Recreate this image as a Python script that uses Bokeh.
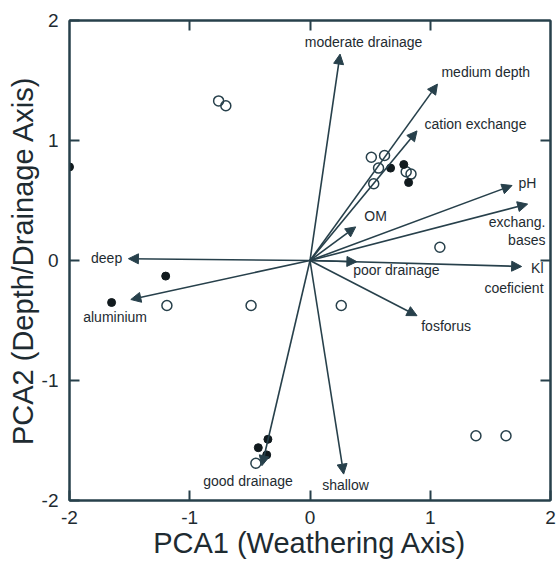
from bokeh.plotting import figure
from bokeh.models import (ColumnDataSource, Arrow, NormalHead, Range1d, LinearAxis,
                          FixedTicker)
from bokeh.core.properties import value
from bokeh.embed import file_html
from bokeh.resources import INLINE

# ---- data -------------------------------------------------------------
# loading vectors (arrows from the origin)
vec_names = ["moderate drainage", "medium depth", "cation exchange", "pH",
             "exchang. bases", "OM", "poor drainage", "Kl coeficient", "fosforus",
             "shallow", "good drainage", "deep", "aluminium"]
vec_x = [0.25, 1.06, 0.89, 1.68, 1.81, 0.38, 0.39, 1.76, 0.89, 0.28, -0.40, -1.51, -1.49]
vec_y = [1.72, 1.47, 1.08, 0.625, 0.47, 0.28, -0.01, -0.05, -0.46, -1.78, -1.71, 0.015, -0.325]

# sample scores: filled symbols
filled_x = [-2.00, -1.20, -1.65, 0.67, 0.78, 0.82, -0.35, -0.43, -0.36]
filled_y = [0.78, -0.13, -0.35, 0.77, 0.80, 0.65, -1.49, -1.56, -1.62]

# sample scores: open symbols
open_x = [-0.76, -0.70, -1.19, -0.49, 0.51, 0.62, 0.57, 0.53, 0.80, 0.84,
          1.08, 0.26, 1.38, 1.63, -0.45]
open_y = [1.33, 1.29, -0.375, -0.375, 0.86, 0.875, 0.77, 0.64, 0.74, 0.72,
          0.11, -0.375, -1.46, -1.46, -1.69]

# vector labels
label_text = ["moderate drainage", "medium depth", "cation exchange", "pH",
              "exchang.", "bases", "OM", "poor drainage", "Kl", "coeficient",
              "fosforus", "shallow", "good drainage", "deep", "aluminium"]
label_x = [0.445, 1.093, 0.952, 1.734, 1.958, 1.958, 0.545, 0.359, 1.942, 1.942,
           0.925, 0.101, -0.888, -1.562, -1.886]
label_y = [1.817, 1.567, 1.139, 0.644, 0.319, 0.175, 0.375, -0.083, -0.065, -0.233,
           -0.542, -1.867, -1.839, 0.025, -0.467]
label_align = ["center", "left", "left", "left", "right", "right", "center", "left",
               "right", "right", "left", "left", "left", "right", "left"]

ticks = [-2, -1, 0, 1, 2]
tick_labels = ["-2", "-1", "0", "1", "2"]
inner_ticks = [-1, 0, 1]

# ---- style ------------------------------------------------------------
LINE = "#27404b"
TEXT = "#1e2b31"
FONT = "Liberation Sans"

p = figure(width=559, height=564, output_backend="svg", toolbar_location=None,
           x_range=Range1d(-2, 2), y_range=Range1d(-2, 2),
           min_border_left=69, min_border_right=9, min_border_top=20,
           min_border_bottom=64, x_axis_label="PCA1 (Weathering Axis)",
           y_axis_label="PCA2 (Depth/Drainage Axis)")
p.grid.visible = False
p.outline_line_color = LINE
p.outline_line_width = 2
p.background_fill_color = "white"
p.border_fill_color = "white"

overrides = {t: s for t, s in zip(ticks, tick_labels)}
for ax in (p.xaxis[0], p.yaxis[0]):
    ax.ticker = FixedTicker(ticks=ticks)
    ax.major_label_overrides = overrides
    ax.major_tick_in = 10
    ax.major_tick_out = 0
    ax.minor_tick_line_color = None
    ax.axis_line_color = LINE
    ax.axis_line_width = 2
    ax.major_tick_line_color = LINE
    ax.major_tick_line_width = 2
    ax.major_label_text_font = FONT
    ax.major_label_text_font_size = "19px"
    ax.major_label_text_color = TEXT
    ax.axis_label_text_font = FONT
    ax.axis_label_text_font_size = "29px"
    ax.axis_label_text_font_style = "normal"
    ax.axis_label_text_color = TEXT
p.xaxis[0].major_label_standoff = 10
p.xaxis[0].axis_label_standoff = 0
p.yaxis[0].major_label_standoff = 11
p.yaxis[0].axis_label_standoff = 0

for loc in ("above", "right"):
    ax = LinearAxis(ticker=FixedTicker(ticks=inner_ticks))
    ax.major_tick_in = 10
    ax.major_tick_out = 0
    ax.minor_tick_line_color = None
    ax.axis_line_color = LINE
    ax.axis_line_width = 2
    ax.major_tick_line_color = LINE
    ax.major_tick_line_width = 2
    ax.major_label_text_font_size = "1px"
    ax.major_label_text_alpha = 0
    ax.major_label_standoff = 0
    p.add_layout(ax, loc)

# arrows
arrow_src = ColumnDataSource(dict(x0=[0.0] * len(vec_x), y0=[0.0] * len(vec_y),
                                  x1=vec_x, y1=vec_y, name=vec_names))
p.add_layout(Arrow(source=arrow_src, x_start="x0", y_start="y0", x_end="x1", y_end="y1",
                   line_color=LINE, line_width=1.6,
                   end=NormalHead(size=10, fill_color=LINE, line_color=LINE, line_width=1)))

# samples
p.scatter(open_x, open_y, size=10, fill_color=None, line_color=LINE, line_width=1.5)
p.scatter(filled_x, filled_y, size=8, fill_color="#111a1e", line_color="#111a1e")

# labels
lab_src = ColumnDataSource(dict(x=label_x, y=label_y, t=label_text, a=label_align))
p.text(x="x", y="y", text="t", source=lab_src, text_align="a",
       text_baseline="middle", text_font=value(FONT), text_font_size="14px",
       text_color=TEXT)

open("out.html", "w").write(file_html(p, INLINE))
